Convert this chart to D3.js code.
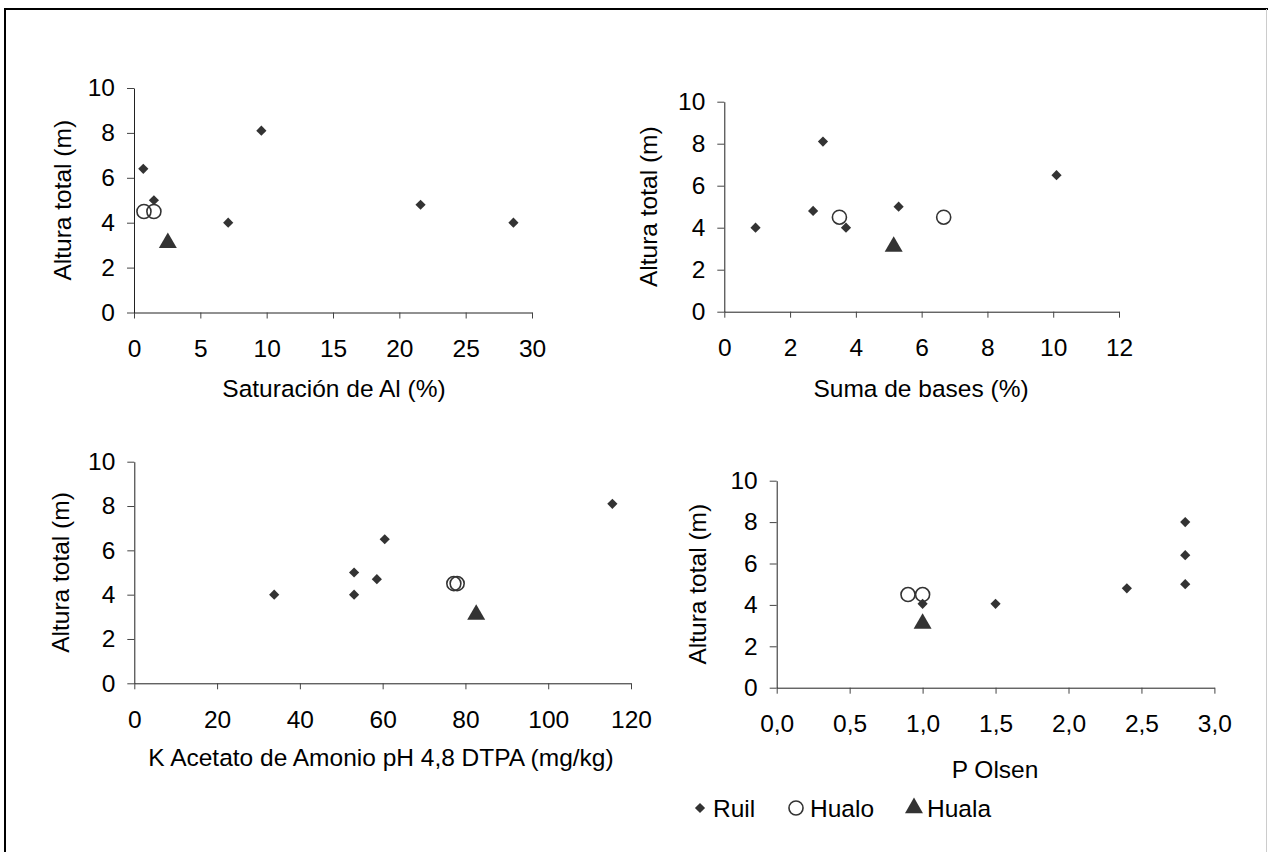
<!DOCTYPE html>
<html>
<head>
<meta charset="utf-8">
<style>
body { margin: 0; background: #fff; }
text { font-family: "Liberation Sans", Arial, sans-serif; fill: #000; }
</style>
</head>
<body>
<div id="chart"></div>
<script src="https://cdn.jsdelivr.net/npm/d3@7"></script>
<script type="text/javascript">

// ---- data ----
var heightTicks = [0, 2, 4, 6, 8, 10]
var yTitle = "Altura total (m)"

// Saturacion de Al (%)
var alTicks = [0, 5, 10, 15, 20, 25, 30]
var alRuilX = [0.7, 1.5, 7.1, 9.6, 21.6, 28.6]
var alRuilY = [6.4, 5.0, 4.0, 8.1, 4.8, 4.0]
var alHualoX = [0.75, 1.5]
var alHualoY = [4.5, 4.5]
var alHualaX = [2.55]
var alHualaY = [3.1]

// Suma de bases (%)
var basesTicks = [0, 2, 4, 6, 8, 10, 12]
var basesRuilX = [0.95, 2.7, 3.0, 3.7, 5.3, 10.1]
var basesRuilY = [4.0, 4.8, 8.1, 4.0, 5.0, 6.5]
var basesHualoX = [3.5, 6.67]
var basesHualoY = [4.5, 4.5]
var basesHualaX = [5.15]
var basesHualaY = [3.1]

// K acetato de amonio
var kTicks = [0, 20, 40, 60, 80, 100, 120]
var kRuilX = [33.8, 53.1, 53.1, 58.6, 60.5, 115.5]
var kRuilY = [4.0, 5.0, 4.0, 4.7, 6.5, 8.1]
var kHualoX = [77.2, 78.0]
var kHualoY = [4.5, 4.5]
var kHualaX = [82.6]
var kHualaY = [3.1]

// P Olsen
var pTicks = [0, 0.5, 1.0, 1.5, 2.0, 2.5, 3.0]
var pRuilX = [1.0, 1.5, 2.4, 2.8, 2.8, 2.8]
var pRuilY = [4.05, 4.05, 4.8, 8.0, 6.4, 5.0]
var pHualoX = [0.9, 1.0]
var pHualoY = [4.5, 4.5]
var pHualaX = [1.0]
var pHualaY = [3.1]

var seriesNames = ["Ruil", "Hualo", "Huala"]

// ---- layout ----
var W = 1268, H = 852
var fs = 24.5
var svg = d3.select("#chart").append("svg")
    .attr("width", W).attr("height", H)

// outer frame
svg.append("path")
    .attr("d", "M5," + H + " V9 H" + W)
    .attr("fill", "none").attr("stroke", "#000").attr("stroke-width", 2)
svg.append("line")
    .attr("x1", W - 1.5).attr("x2", W - 1.5).attr("y1", 9).attr("y2", H)
    .attr("stroke", "#ccc").attr("stroke-width", 1)

var panels = [
  { x0: 134, x1: 532, y0: 312.5, y1: 88, ticks: alTicks, fmt: d3.format("d"),
    title: "Saturación de Al (%)", tx: 334, ty: 388, yx: 62,
    ruil: [alRuilX, alRuilY], hualo: [alHualoX, alHualoY], huala: [alHualaX, alHualaY] },
  { x0: 724.3, x1: 1119, y0: 311.7, y1: 101.7, ticks: basesTicks, fmt: d3.format("d"),
    title: "Suma de bases (%)", tx: 921, ty: 388, yx: 648,
    ruil: [basesRuilX, basesRuilY], hualo: [basesHualoX, basesHualoY], huala: [basesHualaX, basesHualaY] },
  { x0: 134.3, x1: 631, y0: 683.3, y1: 461.7, ticks: kTicks, fmt: d3.format("d"),
    title: "K Acetato de Amonio pH 4,8 DTPA (mg/kg)", tx: 381, ty: 757, yx: 60,
    ruil: [kRuilX, kRuilY], hualo: [kHualoX, kHualoY], huala: [kHualaX, kHualaY] },
  { x0: 776.7, x1: 1214.4, y0: 687.7, y1: 480.7, ticks: pTicks,
    fmt: function(d){ return d3.format(".1f")(d).replace(".", ",") },
    title: "P Olsen", tx: 995, ty: 769, yx: 697,
    ruil: [pRuilX, pRuilY], hualo: [pHualoX, pHualoY], huala: [pHualaX, pHualaY] }
]

var fill = "#333"
var diamond = d3.symbol().type(d3.symbolSquare).size(52)
var circle = d3.symbol().type(d3.symbolCircle).size(155)
var triangle = d3.symbol().type(d3.symbolTriangle).size(140)

function pts(pair){
  return pair[0].map(function(v, i){ return [v, pair[1][i]] })
}

panels.forEach(function(p){
  var x = d3.scaleLinear().domain([p.ticks[0], p.ticks[p.ticks.length - 1]]).range([p.x0, p.x1])
  var y = d3.scaleLinear().domain([0, 10]).range([p.y0, p.y1])
  var g = svg.append("g")

  // axes
  var xa = g.append("g")
      .attr("transform", "translate(0," + p.y0 + ")")
      .call(d3.axisBottom(x).tickValues(p.ticks).tickFormat(p.fmt)
            .tickSizeInner(6).tickSizeOuter(0).tickPadding(21))
  var ya = g.append("g")
      .attr("transform", "translate(" + p.x0 + ",0)")
      .call(d3.axisLeft(y).tickValues(heightTicks).tickFormat(d3.format("d"))
            .tickSizeInner(7).tickSizeOuter(0).tickPadding(12))
  ;[xa, ya].forEach(function(a){
    a.select(".domain").attr("stroke", "#222")
    a.selectAll(".tick line").attr("stroke", "#444")
    a.selectAll(".tick text").attr("font-size", fs).attr("fill", "#000")
      .style("font-family", "'Liberation Sans', Arial, sans-serif")
  })

  // titles
  g.append("text")
      .attr("x", p.tx).attr("y", p.ty)
      .attr("text-anchor", "middle").attr("dominant-baseline", "central")
      .attr("font-size", fs)
      .text(p.title)
  g.append("text")
      .attr("transform", "translate(" + p.yx + "," + ((p.y0 + p.y1) / 2) + ") rotate(-90)")
      .attr("text-anchor", "middle").attr("dominant-baseline", "central")
      .attr("font-size", fs)
      .text(yTitle)

  // marks
  g.selectAll(".ruil").data(pts(p.ruil)).enter().append("path")
      .attr("d", diamond)
      .attr("transform", function(d){ return "translate(" + x(d[0]) + "," + y(d[1]) + ") rotate(45)" })
      .attr("fill", fill)
  g.selectAll(".hualo").data(pts(p.hualo)).enter().append("path")
      .attr("d", circle)
      .attr("transform", function(d){ return "translate(" + x(d[0]) + "," + y(d[1]) + ")" })
      .attr("fill", "none").attr("stroke", fill).attr("stroke-width", 1.6)
  g.selectAll(".huala").data(pts(p.huala)).enter().append("path")
      .attr("d", triangle)
      .attr("transform", function(d){ return "translate(" + x(d[0]) + "," + y(d[1]) + ")" })
      .attr("fill", fill)
})

// legend
var legend = svg.append("g").attr("transform", "translate(0,808)")
var legendItems = [
  { sym: diamond, rot: 45, x: 700, tx: 713, filled: true },
  { sym: circle, rot: 0, x: 796, tx: 810, filled: false },
  { sym: triangle, rot: 0, x: 914, tx: 927, filled: true }
]
legendItems.forEach(function(it, i){
  legend.append("path")
      .attr("d", it.sym)
      .attr("transform", "translate(" + it.x + ",0) rotate(" + it.rot + ")")
      .attr("fill", it.filled ? fill : "none")
      .attr("stroke", it.filled ? "none" : fill).attr("stroke-width", 1.6)
  legend.append("text")
      .attr("x", it.tx).attr("y", 0)
      .attr("dominant-baseline", "central")
      .attr("font-size", fs)
      .text(seriesNames[i])
})

</script>
</body>
</html>
